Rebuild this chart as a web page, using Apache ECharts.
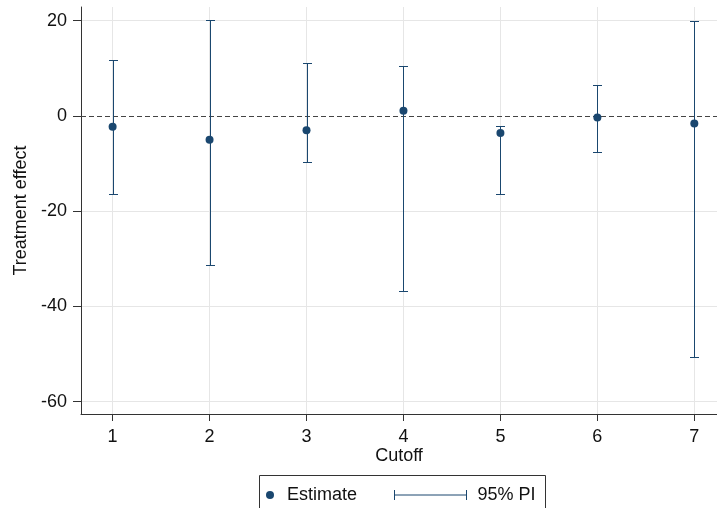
<!DOCTYPE html>
<html>
<head>
<meta charset="utf-8">
<script src="https://cdn.jsdelivr.net/npm/echarts@6/dist/echarts.min.js"></script>
<style>html,body{margin:0;padding:0;background:#fff}#c{width:717px;height:508px}</style>
</head>
<body>
<div id="c"></div>
<script>
// ---- data ----
var cutoffs = [1, 2, 3, 4, 5, 6, 7];
var estimates = [-2.3, -5.0, -3.0, 1.1, -3.6, -0.35, -1.6];
var piLower = [-16.5, -31.4, -9.7, -36.8, -16.4, -7.6, -50.6];
var piUpper = [11.8, 20.1, 11.1, 10.4, -2.2, 6.5, 20.0];
var yTicks = [-60, -40, -20, 0, 20];
var xTicks = [1, 2, 3, 4, 5, 6, 7];

var NAVY = '#1a476f';
var FONT = '"Liberation Sans", Arial, sans-serif';

var estData = cutoffs.map(function (c, i) { return [c, estimates[i]]; });
var piData = cutoffs.map(function (c, i) { return [c, piLower[i], piUpper[i]]; });

var chart = echarts.init(document.getElementById('c'), null, { renderer: 'canvas' });

var gridLinesY = yTicks.filter(function (v) { return v !== 0; }).map(function (v) { return { yAxis: v }; });
var gridLinesX = xTicks.map(function (v) { return { xAxis: v }; });

chart.setOption({
  animation: false,
  backgroundColor: '#fff',
  textStyle: { fontFamily: FONT },
  grid: { left: 81, top: 7, right: 0, bottom: 94 },
  xAxis: {
    type: 'value',
    min: 0.674, max: 7.234,
    name: 'Cutoff',
    nameLocation: 'middle',
    nameGap: 33,
    nameMoveOverlap: false,
    nameTextStyle: { fontSize: 18, color: '#111', fontFamily: FONT, verticalAlign: 'top' },
    axisLine: { show: true, onZero: false, lineStyle: { color: '#333', width: 1 } },
    axisTick: { show: true, length: 7, customValues: xTicks, lineStyle: { color: '#333' } },
    axisLabel: { customValues: xTicks, fontSize: 18, color: '#111', margin: 14, fontFamily: FONT },
    splitLine: { show: false }
  },
  yAxis: {
    type: 'value',
    min: -62.6, max: 22.86,
    name: 'Treatment effect',
    nameLocation: 'middle',
    nameGap: 51,
    nameRotate: 90,
    nameMoveOverlap: false,
    nameTextStyle: { fontSize: 18, color: '#111', fontFamily: FONT },
    axisLine: { show: true, onZero: false, lineStyle: { color: '#333', width: 1 } },
    axisTick: { show: true, length: 8, customValues: yTicks, lineStyle: { color: '#333' } },
    axisLabel: { customValues: yTicks, fontSize: 18, color: '#111', margin: 14, fontFamily: FONT },
    splitLine: { show: false }
  },
  legend: [
    {
      data: [{ name: 'Estimate', icon: 'circle', itemStyle: { color: NAVY, opacity: 1 } }],
      left: 266, top: 486,
      itemWidth: 8, itemHeight: 8,
      padding: 0,
      textStyle: { fontSize: 18, color: '#111', fontFamily: FONT, padding: [0, 0, 0, 8] },
      selectedMode: false
    },
    {
      data: [{
        name: '95% PI',
        icon: 'path://M0,0 L0,10 M0,5 L72,5 M72,0 L72,10',
        itemStyle: { color: 'none', borderColor: NAVY, borderWidth: 1 }
      }],
      left: 392, top: 486,
      itemWidth: 72, itemHeight: 10,
      padding: 0,
      textStyle: { fontSize: 18, color: '#111', fontFamily: FONT, padding: [0, 0, 0, 6] },
      selectedMode: false
    }
  ],
  graphic: [
    {
      type: 'rect',
      silent: true,
      shape: { x: 259.5, y: 475.5, width: 286, height: 40 },
      style: { fill: 'none', stroke: '#333', lineWidth: 1 }
    }
  ],
  series: [
    {
      name: 'grid',
      type: 'line',
      data: [],
      silent: true,
      z: 0,
      markLine: {
        z: 0,
        silent: true,
        symbol: 'none',
        label: { show: false },
        lineStyle: { color: '#e6e6e6', type: 'solid', width: 1 },
        data: gridLinesY.concat(gridLinesX)
      }
    },
    {
      name: '95% PI',
      type: 'custom',
      z: 2,
      data: piData,
      encode: { x: 0, y: [1, 2] },
      renderItem: function (params, api) {
        var x = api.value(0);
        var lo = api.coord([x, api.value(1)]);
        var hi = api.coord([x, api.value(2)]);
        var px = Math.round(lo[0]) + 0.5;
        var ly = Math.round(lo[1]) + 0.5;
        var hy = Math.round(hi[1]) + 0.5;
        var hw = 4.5;
        var st = { stroke: NAVY, lineWidth: 1, fill: null };
        return {
          type: 'group',
          children: [
            { type: 'line', shape: { x1: px, y1: ly, x2: px, y2: hy }, style: st },
            { type: 'line', shape: { x1: px - hw, y1: ly, x2: px + hw, y2: ly }, style: st },
            { type: 'line', shape: { x1: px - hw, y1: hy, x2: px + hw, y2: hy }, style: st }
          ]
        };
      }
    },
    {
      name: 'Estimate',
      type: 'scatter',
      z: 4,
      data: estData,
      symbol: 'circle',
      symbolSize: 8,
      itemStyle: { color: NAVY, opacity: 1 },
      markLine: {
        z: 1,
        silent: true,
        symbol: 'none',
        label: { show: false },
        lineStyle: { color: '#444', type: [5, 3], width: 1.2 },
        data: [{ yAxis: 0 }]
      }
    }
  ]
});
</script>
</body>
</html>
